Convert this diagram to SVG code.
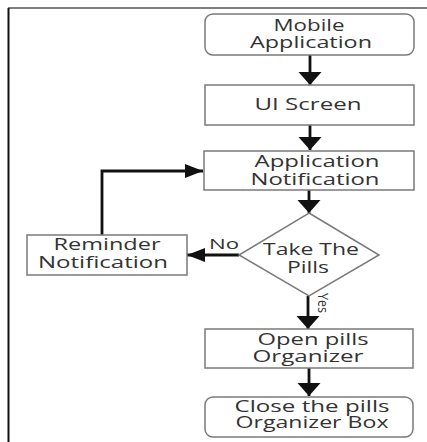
<svg xmlns="http://www.w3.org/2000/svg" width="427" height="442" viewBox="0 0 427 442">
<style>
.box{fill:#fff;stroke:#7a7a7a;stroke-width:1.5}
.t{font-family:"Open Sans","Noto Sans",sans-serif;font-size:17px;fill:#333;text-anchor:middle}
.c{fill:none;stroke:#111;stroke-width:2.8}
.lbl{font-family:"Open Sans","Noto Sans",sans-serif;font-size:14px;fill:#333}
</style>
<defs>
<marker id="av" markerUnits="userSpaceOnUse" markerWidth="14" markerHeight="24" refX="13" refY="11.5" orient="auto">
<path d="M0,0 L13,11.5 L0,23 Z" fill="#111"/>
</marker>
<marker id="ah" markerUnits="userSpaceOnUse" markerWidth="19" markerHeight="15" refX="18" refY="7" orient="auto">
<path d="M0,0 L18,7 L0,14 Z" fill="#111"/>
</marker>
</defs>
<rect width="427" height="442" fill="#fff"/>
<g id="frame">
<line x1="8" y1="8" x2="427" y2="8" stroke="#555" stroke-width="1.5"/>
<line x1="8.5" y1="8" x2="8.5" y2="442" stroke="#111" stroke-width="2"/>
</g>
<g id="connectors">
<line class="c" x1="310" y1="55" x2="310" y2="85" marker-end="url(#av)"/>
<line class="c" x1="310" y1="125" x2="310" y2="150" marker-end="url(#av)"/>
<line class="c" x1="309" y1="190" x2="309" y2="213" marker-end="url(#av)"/>
<line class="c" x1="239" y1="255" x2="187" y2="255" marker-end="url(#ah)"/>
<polyline class="c" points="102,235 102,171 203,171" marker-end="url(#ah)"/>
<line class="c" x1="308" y1="296" x2="308" y2="329" marker-end="url(#av)"/>
<line class="c" x1="309" y1="368" x2="309" y2="396" marker-end="url(#av)"/>
<text class="lbl" x="209" y="249" textLength="30" lengthAdjust="spacingAndGlyphs">No</text>
<text class="lbl" font-size="13" transform="translate(318,293) rotate(90)" textLength="20" lengthAdjust="spacingAndGlyphs">Yes</text>
</g>
<g id="mobile">
<rect class="box" x="205" y="14" width="209" height="41" rx="8"/>
<text class="t" x="309" y="31" textLength="71" lengthAdjust="spacingAndGlyphs">Mobile</text>
<text class="t" x="311" y="48" textLength="122" lengthAdjust="spacingAndGlyphs">Application</text>
</g>
<g id="ui">
<rect class="box" x="205" y="85" width="209" height="40"/>
<text class="t" x="308" y="110" textLength="107" lengthAdjust="spacingAndGlyphs">UI Screen</text>
</g>
<g id="appnotif">
<rect class="box" x="204" y="151" width="210" height="39"/>
<text class="t" x="317" y="167" textLength="125" lengthAdjust="spacingAndGlyphs">Application</text>
<text class="t" x="315" y="185" textLength="129" lengthAdjust="spacingAndGlyphs">Notification</text>
</g>
<g id="decision">
<polygon class="box" points="309,213 379,255 309,296 239,255"/>
<text class="t" x="311" y="255" textLength="96" lengthAdjust="spacingAndGlyphs">Take The</text>
<text class="t" x="308" y="273" textLength="42" lengthAdjust="spacingAndGlyphs">Pills</text>
</g>
<g id="reminder">
<rect class="box" x="27" y="235" width="160" height="40"/>
<text class="t" x="107" y="250" textLength="107" lengthAdjust="spacingAndGlyphs">Reminder</text>
<text class="t" x="103" y="268" textLength="130" lengthAdjust="spacingAndGlyphs">Notification</text>
</g>
<g id="open">
<rect class="box" x="205" y="329" width="208" height="39"/>
<text class="t" x="313" y="345" textLength="111" lengthAdjust="spacingAndGlyphs">Open pills</text>
<text class="t" x="308" y="362" textLength="111" lengthAdjust="spacingAndGlyphs">Organizer</text>
</g>
<g id="close">
<rect class="box" x="205" y="397" width="208" height="40" rx="8"/>
<text class="t" x="312" y="412" textLength="155" lengthAdjust="spacingAndGlyphs">Close the pills</text>
<text class="t" x="312" y="428" textLength="153" lengthAdjust="spacingAndGlyphs">Organizer Box</text>
</g>
</svg>
